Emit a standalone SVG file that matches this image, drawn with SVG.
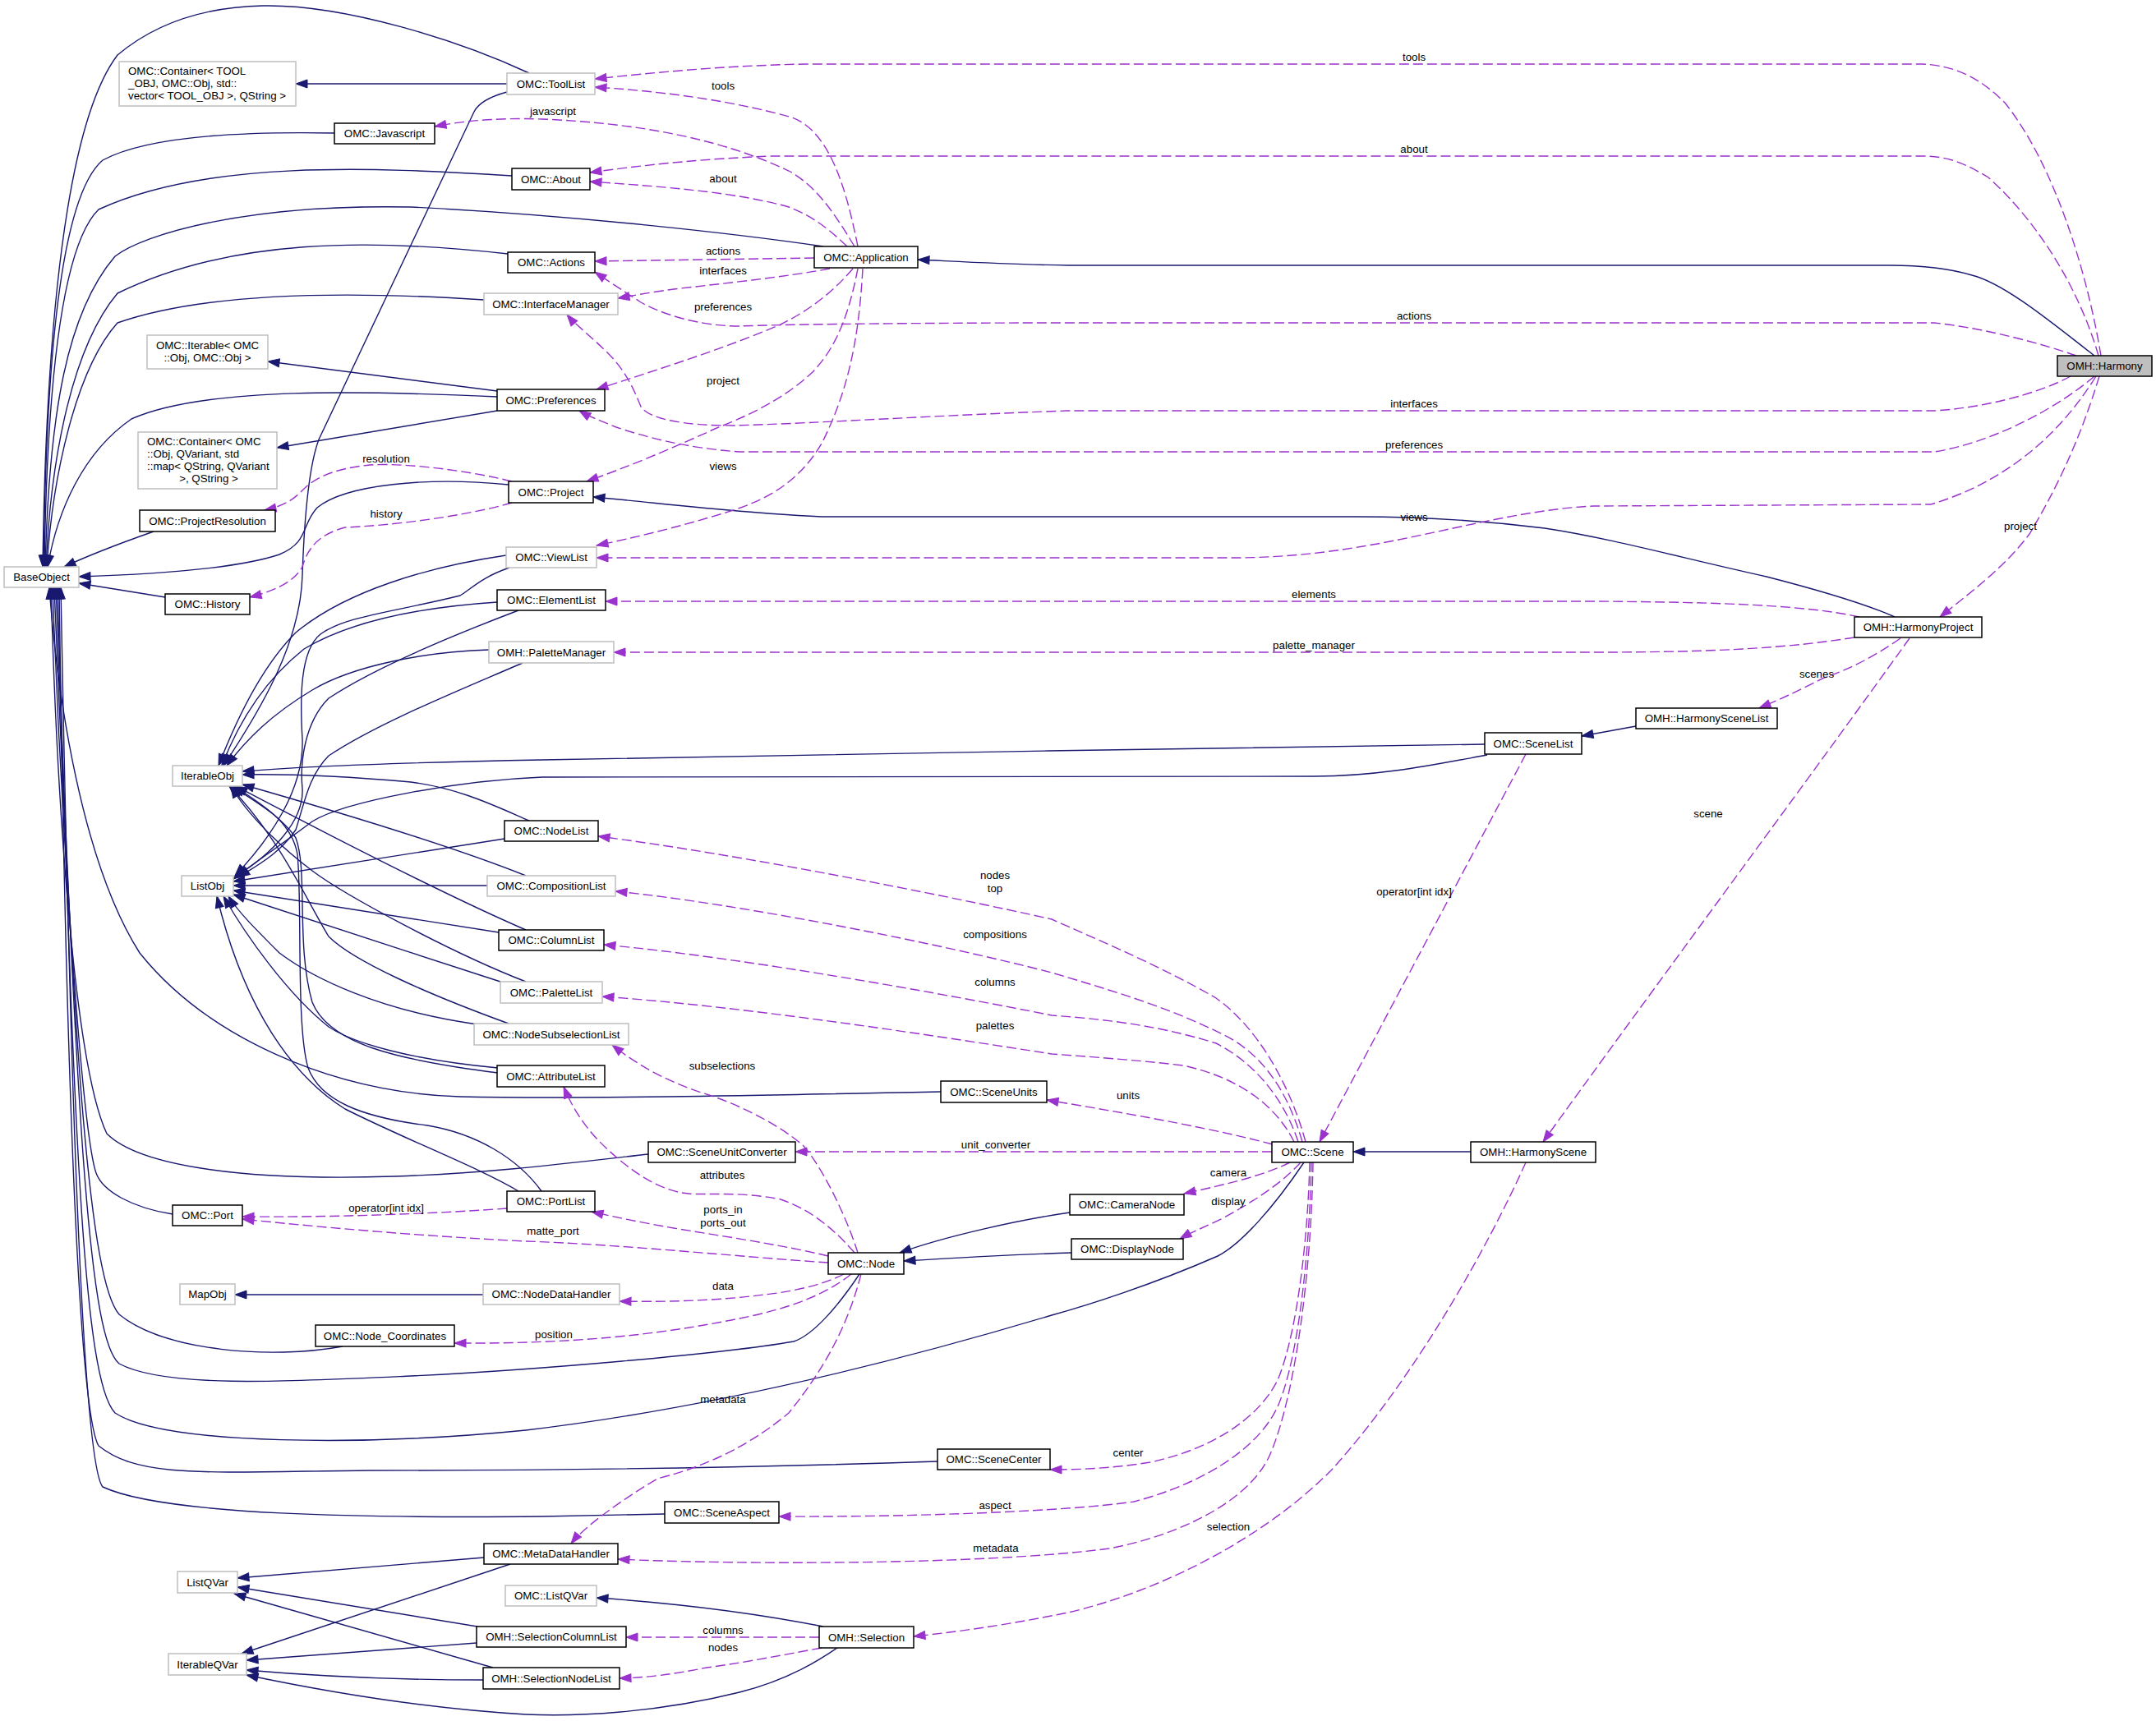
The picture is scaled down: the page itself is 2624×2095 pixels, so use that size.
<svg xmlns="http://www.w3.org/2000/svg" width="2624" height="2095" viewBox="0 0 2624 2095">
<style>
text{font-family:"Liberation Sans",Arial,Helvetica,sans-serif;font-size:13.3px;fill:#000}
.nd rect{fill:#fff;stroke:#000;stroke-width:1.5}
.nu rect{fill:#fff;stroke:#bfbfbf;stroke-width:1.5}
.nd text,.nu text{text-anchor:middle}
.inh path{fill:none;stroke:#191970;stroke-width:1.4;marker-end:url(#ai)}
.use path{fill:none;stroke:#9a32cd;stroke-width:1.4;stroke-dasharray:12,5;marker-end:url(#au)}
.lbl text{text-anchor:middle}
</style>
<defs>
<marker id="ai" markerUnits="userSpaceOnUse" markerWidth="16" markerHeight="12" refX="14" refY="5" orient="auto" overflow="visible"><path d="M0,0L14,5L0,10z" fill="#191970" stroke="#191970" stroke-width="1"/></marker>
<marker id="au" markerUnits="userSpaceOnUse" markerWidth="16" markerHeight="12" refX="14" refY="5" orient="auto" overflow="visible"><path d="M0,0L14,5L0,10z" fill="#9a32cd" stroke="#9a32cd" stroke-width="1"/></marker>
</defs>
<rect width="2624" height="2095" fill="#fff"/>
<g id="connectors">
<g class="inh">
<path d="M617,102 L360,102"/>
<path d="M644,89 C560,50 420,5 320,7 C230,9 175,40 143,67 C80,150 56,400 52,690"/>
<path d="M407,162 C300,160 180,165 125,195 C72,240 56,450 53,690"/>
<path d="M623,214 C450,203 250,195 120,255 C74,300 57,480 54,690"/>
<path d="M1002,300 C900,285 700,262 500,252 C300,248 175,285 140,312 C82,380 60,500 55,690"/>
<path d="M618,309 C450,290 280,290 143,357 C90,420 62,550 56,690"/>
<path d="M589,365 C450,356 260,352 143,393 C92,450 64,580 57,690"/>
<path d="M605,476 L326,440"/>
<path d="M605,483 C450,476 250,470 160,510 C102,550 70,620 58,690"/>
<path d="M605,500 L337,545"/>
<path d="M619,590 C520,580 420,590 386,618 C366,640 376,660 340,675 C280,695 160,700 96,702"/>
<path d="M187,647 C150,660 110,675 78,690"/>
<path d="M201,727 L96,710"/>
<path d="M617,112 C595,118 582,126 577,136 L388,535 C375,570 370,640 368,700 C366,780 320,860 272,932"/>
<path d="M616,676 C520,690 420,720 360,770 C320,810 290,870 266,932"/>
<path d="M620,691 C585,703 572,718 560,725 C480,745 420,750 390,772 C365,792 365,850 368,900 C370,960 330,1020 286,1066"/>
<path d="M605,733 C500,740 420,760 370,790 C320,830 290,880 270,932"/>
<path d="M631,743 C560,770 460,810 400,850 C370,880 365,930 368,960 C370,1000 330,1040 288,1066"/>
<path d="M595,791 C520,793 430,810 380,840 C330,870 300,900 276,932"/>
<path d="M636,807 C560,840 460,880 400,920 C375,945 370,980 360,1010 C340,1040 310,1055 290,1068"/>
<path d="M1807,906 C1500,910 900,920 660,925 C500,928 380,932 295,939"/>
<path d="M1810,919 C1750,930 1680,945 1600,945 L660,946 C560,950 420,975 380,1000 C340,1030 310,1050 284,1070"/>
<path d="M644,999 C600,980 560,960 500,952 C420,945 350,942 295,943"/>
<path d="M614,1021 L284,1073"/>
<path d="M640,1066 C550,1030 400,985 295,955"/>
<path d="M593,1078 L284,1078"/>
<path d="M640,1132 C520,1080 350,990 287,957"/>
<path d="M607,1135 L284,1084"/>
<path d="M640,1195 C550,1160 420,1090 380,1060 C340,1030 300,990 281,957"/>
<path d="M609,1195 C500,1160 350,1110 284,1089"/>
<path d="M619,1246 C520,1210 430,1170 400,1140 C370,1090 340,1020 279,957"/>
<path d="M581,1247 C460,1230 380,1190 340,1160 C310,1130 290,1110 278,1091"/>
<path d="M606,1306 C480,1290 400,1270 380,1220 C360,1150 375,1060 360,1020 C340,990 300,970 283,957"/>
<path d="M606,1300 C500,1290 430,1270 400,1250 C350,1210 300,1140 272,1091"/>
<path d="M659,1450 C630,1410 580,1380 520,1370 C440,1360 390,1340 375,1300 C360,1250 368,1100 362,1040 C355,1000 320,980 285,957"/>
<path d="M631,1450 C580,1420 500,1390 420,1350 C340,1300 290,1200 264,1091"/>
<path d="M1145,1329 C900,1334 700,1338 560,1335 C400,1330 250,1260 170,1160 C100,1050 70,850 60,715"/>
<path d="M789,1405 C700,1415 600,1428 480,1432 C300,1438 170,1420 130,1380 C92,1300 70,1000 62,715"/>
<path d="M210,1478 C160,1470 125,1450 117,1428 C100,1380 74,1000 64,715"/>
<path d="M417,1639 C330,1655 200,1645 145,1600 C110,1560 90,1300 66,715"/>
<path d="M1046,1551 C1020,1590 990,1625 966,1633 C880,1648 650,1668 500,1675 C350,1682 200,1690 145,1660 C110,1630 94,1400 68,715"/>
<path d="M1587,1415 C1550,1470 1510,1515 1482,1529 C1400,1565 1320,1590 1280,1601 C1150,1640 900,1710 640,1741 C450,1760 200,1760 140,1720 C102,1680 90,1400 70,715"/>
<path d="M1141,1779 C900,1787 700,1790 450,1790 C250,1792 170,1800 120,1760 C96,1720 80,1300 72,715"/>
<path d="M809,1843 L660,1846 C450,1848 200,1845 125,1810 C100,1780 85,1300 74,715"/>
<path d="M588,1576 L286,1576"/>
<path d="M2549,433 C2500,395 2440,345 2400,335 C2370,326 2340,323 2300,323 L1300,323 C1230,322 1180,319 1117,316"/>
<path d="M2306,751 C2270,735 2220,720 2150,702 C2050,680 1960,655 1880,643 C1800,633 1720,629 1650,629 L1000,629 C900,625 800,612 722,605"/>
<path d="M1991,884 L1925,896"/>
<path d="M1790,1402 L1647,1402"/>
<path d="M1302,1476 C1240,1485 1150,1505 1095,1525"/>
<path d="M1304,1525 C1240,1527 1150,1532 1100,1535"/>
<path d="M1002,1980 C900,1960 800,1950 726,1945"/>
<path d="M589,1896 L289,1921"/>
<path d="M621,1904 L294,2013"/>
<path d="M581,1980 L289,1932"/>
<path d="M580,2000 L300,2021"/>
<path d="M600,2030 L285,1940"/>
<path d="M588,2045 C480,2045 380,2040 300,2033"/>
<path d="M1033,1996 C1000,2020 960,2045 900,2060 C800,2085 700,2090 640,2087 C520,2080 400,2060 300,2039"/>
</g>
<g class="use">
<path d="M1044,300 C1030,230 1010,160 964,143 C900,125 820,112 724,106"/>
<path d="M1040,300 C1010,250 990,225 960,208 C880,170 780,150 660,145 C600,143 560,148 529,154"/>
<path d="M1031,300 C1000,270 980,260 960,252 C900,235 820,228 718,221"/>
<path d="M991,314 L724,318"/>
<path d="M1010,327 C950,338 880,345 820,352 C790,356 770,360 752,363"/>
<path d="M1038,327 C1010,360 980,380 950,395 C880,425 800,450 726,474"/>
<path d="M1044,327 C1030,400 1010,430 990,452 C950,490 900,510 870,522 C820,545 760,570 714,586"/>
<path d="M1050,327 C1045,420 1030,480 1000,540 C970,590 930,610 880,625 C820,643 770,655 726,664"/>
<path d="M2557,433 C2540,330 2500,200 2440,125 C2410,95 2380,80 2340,78 L980,78 C880,80 800,88 724,96"/>
<path d="M2554,433 C2530,350 2480,270 2420,216 C2390,198 2370,190 2340,190 L940,190 C860,193 790,200 718,210"/>
<path d="M2527,433 C2490,420 2420,400 2354,393 L1300,393 C1100,393 950,395 900,397 C850,397 805,382 780,368 C760,355 740,342 724,331"/>
<path d="M2520,458 C2480,480 2410,497 2354,500 L1300,500 C1150,505 1000,515 893,518 C830,518 790,510 780,495 C770,470 760,450 740,430 C720,410 700,395 690,383"/>
<path d="M2549,458 C2500,500 2420,540 2354,550 L900,550 C830,545 780,530 750,520 C730,512 715,506 705,500"/>
<path d="M2551,458 C2500,540 2430,590 2350,614 L1940,616 C1850,620 1750,650 1659,665 C1600,675 1550,679 1500,679 L726,679"/>
<path d="M2555,458 C2530,540 2500,600 2470,650 C2440,690 2400,720 2361,751"/>
<path d="M623,586 C580,575 500,563 450,566 C410,570 385,580 370,595 C360,605 350,615 322,621"/>
<path d="M623,612 C560,630 470,640 420,642 C390,650 375,665 368,690 C360,705 340,718 304,727"/>
<path d="M2263,751 C2200,737 2100,733 1940,732 L737,732"/>
<path d="M2257,776 C2180,788 2100,794 1940,794 L747,794"/>
<path d="M2313,777 C2280,800 2250,815 2220,825 C2190,840 2170,850 2141,862"/>
<path d="M2324,777 C2200,950 2000,1220 1878,1390"/>
<path d="M1857,918 L1606,1390"/>
<path d="M1589,1390 C1570,1320 1530,1250 1480,1215 C1420,1180 1350,1150 1280,1119 C1150,1090 900,1040 728,1018"/>
<path d="M1585,1390 C1565,1320 1530,1280 1490,1260 C1420,1225 1350,1205 1280,1184 C1150,1150 900,1100 749,1085"/>
<path d="M1580,1390 C1560,1330 1520,1290 1480,1270 C1400,1245 1330,1240 1280,1236 C1150,1210 900,1165 735,1150"/>
<path d="M1575,1390 C1550,1340 1500,1310 1440,1297 C1380,1290 1320,1286 1280,1283 C1100,1255 900,1225 733,1213"/>
<path d="M1549,1393 C1480,1375 1400,1360 1274,1339"/>
<path d="M1548,1402 L968,1402"/>
<path d="M1570,1415 C1540,1430 1500,1440 1441,1453"/>
<path d="M1583,1415 C1560,1440 1530,1460 1490,1482 C1470,1492 1450,1500 1436,1508"/>
<path d="M1594,1415 C1592,1500 1580,1620 1555,1680 C1530,1730 1470,1765 1400,1780 C1350,1788 1310,1789 1278,1789"/>
<path d="M1596,1415 C1594,1520 1581,1650 1556,1710 C1530,1770 1450,1810 1380,1828 C1300,1840 1100,1847 948,1846"/>
<path d="M1598,1415 C1596,1550 1576,1700 1546,1770 C1520,1830 1430,1870 1350,1885 C1200,1905 900,1905 752,1898"/>
<path d="M1857,1415 C1810,1520 1720,1680 1620,1790 C1530,1880 1400,1940 1300,1963 C1240,1975 1180,1985 1112,1992"/>
<path d="M1044,1525 C1030,1480 1000,1420 978,1395 C950,1370 900,1345 863,1333 C820,1320 780,1300 745,1272"/>
<path d="M1040,1525 C1010,1490 980,1470 950,1460 C900,1450 860,1455 838,1453 C800,1450 760,1420 730,1390 C710,1370 695,1345 686,1323"/>
<path d="M1008,1529 C950,1515 880,1505 820,1495 C780,1488 750,1482 720,1475"/>
<path d="M1008,1537 C900,1530 760,1515 640,1511 C520,1505 400,1495 295,1484"/>
<path d="M617,1471 C520,1478 400,1482 295,1481"/>
<path d="M1027,1551 C1000,1565 960,1573 930,1576 C870,1584 800,1585 754,1584"/>
<path d="M1036,1551 C1000,1580 950,1595 900,1605 C800,1625 700,1636 553,1635"/>
<path d="M1048,1551 C1030,1620 1000,1670 960,1720 C900,1770 840,1790 800,1800 C750,1830 710,1860 695,1879"/>
<path d="M997,1993 L762,1993"/>
<path d="M1000,2006 C950,2015 900,2025 860,2030 C820,2038 790,2042 754,2043"/>
</g>
<g class="lbl">
<text x="880" y="109">tools</text>
<text x="673" y="140">javascript</text>
<text x="880" y="222">about</text>
<text x="880" y="310">actions</text>
<text x="880" y="334">interfaces</text>
<text x="880" y="378">preferences</text>
<text x="880" y="468">project</text>
<text x="880" y="572">views</text>
<text x="1721" y="74">tools</text>
<text x="1721" y="186">about</text>
<text x="1721" y="389">actions</text>
<text x="1721" y="496">interfaces</text>
<text x="1721" y="546">preferences</text>
<text x="1721" y="634">views</text>
<text x="2459" y="645">project</text>
<text x="470" y="563">resolution</text>
<text x="470" y="630">history</text>
<text x="1599" y="728">elements</text>
<text x="1599" y="790">palette_manager</text>
<text x="2211" y="825">scenes</text>
<text x="2079" y="995">scene</text>
<text x="1721" y="1090">operator[int idx]</text>
<text x="1211" y="1070">nodes</text>
<text x="1211" y="1086">top</text>
<text x="1211" y="1142">compositions</text>
<text x="1211" y="1200">columns</text>
<text x="1211" y="1253">palettes</text>
<text x="1373" y="1338">units</text>
<text x="1212" y="1398">unit_converter</text>
<text x="1495" y="1432">camera</text>
<text x="1495" y="1467">display</text>
<text x="1373" y="1773">center</text>
<text x="1211" y="1837">aspect</text>
<text x="1212" y="1889">metadata</text>
<text x="1495" y="1863">selection</text>
<text x="879" y="1302">subselections</text>
<text x="879" y="1435">attributes</text>
<text x="880" y="1477">ports_in</text>
<text x="880" y="1493">ports_out</text>
<text x="673" y="1503">matte_port</text>
<text x="470" y="1475">operator[int idx]</text>
<text x="880" y="1570">data</text>
<text x="674" y="1629">position</text>
<text x="880" y="1708">metadata</text>
<text x="880" y="1989">columns</text>
<text x="880" y="2010">nodes</text>
</g>
</g>
<g id="n_Harmony" class="nd"><rect x="2504" y="433" width="115" height="25" style="fill:#bfbfbf"/><text x="2561.5" y="450">OMH::Harmony</text></g>
<g id="n_Application" class="nd"><rect x="991" y="300" width="126" height="26"/><text x="1054" y="317.5">OMC::Application</text></g>
<g id="n_ToolList" class="nu"><rect x="617" y="89" width="107" height="26"/><text x="670.5" y="106.5">OMC::ToolList</text></g>
<g id="n_ContainerTool" class="nu"><rect x="145" y="75" width="215" height="54"/><text x="156" y="91" style="text-anchor:start">OMC::Container&lt; TOOL</text><text x="156" y="106" style="text-anchor:start">_OBJ, OMC::Obj, std::</text><text x="156" y="121" style="text-anchor:start">vector&lt; TOOL_OBJ &gt;, QString &gt;</text></g>
<g id="n_Javascript" class="nd"><rect x="407" y="150" width="122" height="25"/><text x="468" y="167">OMC::Javascript</text></g>
<g id="n_About" class="nd"><rect x="623" y="205" width="95" height="26"/><text x="670.5" y="222.5">OMC::About</text></g>
<g id="n_Actions" class="nd"><rect x="618" y="307" width="106" height="25"/><text x="671" y="324">OMC::Actions</text></g>
<g id="n_InterfaceManager" class="nu"><rect x="589" y="357" width="163" height="26"/><text x="670.5" y="374.5">OMC::InterfaceManager</text></g>
<g id="n_IterableOMC" class="nu"><rect x="179" y="408" width="147" height="41"/><text x="252.5" y="425">OMC::Iterable&lt; OMC</text><text x="252.5" y="440">::Obj, OMC::Obj &gt;</text></g>
<g id="n_Preferences" class="nd"><rect x="605" y="474" width="131" height="26"/><text x="670.5" y="491.5">OMC::Preferences</text></g>
<g id="n_ContainerQV" class="nu"><rect x="168" y="526" width="169" height="69"/><text x="179" y="542" style="text-anchor:start">OMC::Container&lt; OMC</text><text x="179" y="557" style="text-anchor:start">::Obj, QVariant, std</text><text x="179" y="572" style="text-anchor:start">::map&lt; QString, QVariant</text><text x="254" y="587">&gt;, QString &gt;</text></g>
<g id="n_ProjectResolution" class="nd"><rect x="170" y="621" width="165" height="26"/><text x="252.5" y="638.5">OMC::ProjectResolution</text></g>
<g id="n_Project" class="nd"><rect x="619" y="586" width="103" height="26"/><text x="670.5" y="603.5">OMC::Project</text></g>
<g id="n_ViewList" class="nu"><rect x="616" y="666" width="110" height="25"/><text x="671" y="683">OMC::ViewList</text></g>
<g id="n_BaseObject" class="nu"><rect x="5" y="690" width="91" height="25"/><text x="50.5" y="707">BaseObject</text></g>
<g id="n_History" class="nd"><rect x="201" y="723" width="103" height="25"/><text x="252.5" y="740">OMC::History</text></g>
<g id="n_ElementList" class="nd"><rect x="605" y="718" width="132" height="25"/><text x="671" y="735">OMC::ElementList</text></g>
<g id="n_PaletteManager" class="nu"><rect x="595" y="781" width="152" height="26"/><text x="671" y="798.5">OMH::PaletteManager</text></g>
<g id="n_IterableObj" class="nu"><rect x="210" y="932" width="85" height="25"/><text x="252.5" y="949">IterableObj</text></g>
<g id="n_ListObj" class="nu"><rect x="221" y="1066" width="63" height="25"/><text x="252.5" y="1083">ListObj</text></g>
<g id="n_NodeList" class="nd"><rect x="614" y="999" width="114" height="25"/><text x="671" y="1016">OMC::NodeList</text></g>
<g id="n_CompositionList" class="nu"><rect x="593" y="1066" width="156" height="25"/><text x="671" y="1083">OMC::CompositionList</text></g>
<g id="n_ColumnList" class="nd"><rect x="607" y="1132" width="128" height="25"/><text x="671" y="1149">OMC::ColumnList</text></g>
<g id="n_PaletteList" class="nu"><rect x="609" y="1195" width="124" height="26"/><text x="671" y="1212.5">OMC::PaletteList</text></g>
<g id="n_NodeSubselectionList" class="nu"><rect x="577" y="1246" width="188" height="26"/><text x="671" y="1263.5">OMC::NodeSubselectionList</text></g>
<g id="n_AttributeList" class="nd"><rect x="605" y="1297" width="131" height="26"/><text x="670.5" y="1314.5">OMC::AttributeList</text></g>
<g id="n_SceneUnits" class="nd"><rect x="1145" y="1316" width="129" height="26"/><text x="1209.5" y="1333.5">OMC::SceneUnits</text></g>
<g id="n_SceneUnitConverter" class="nd"><rect x="789" y="1390" width="179" height="25"/><text x="878.5" y="1407">OMC::SceneUnitConverter</text></g>
<g id="n_PortList" class="nd"><rect x="617" y="1450" width="107" height="25"/><text x="670.5" y="1467">OMC::PortList</text></g>
<g id="n_Port" class="nd"><rect x="210" y="1467" width="85" height="25"/><text x="252.5" y="1484">OMC::Port</text></g>
<g id="n_MapObj" class="nu"><rect x="219" y="1563" width="67" height="25"/><text x="252.5" y="1580">MapObj</text></g>
<g id="n_NodeDataHandler" class="nu"><rect x="588" y="1563" width="166" height="25"/><text x="671" y="1580">OMC::NodeDataHandler</text></g>
<g id="n_NodeCoordinates" class="nd"><rect x="384" y="1613" width="169" height="26"/><text x="468.5" y="1630.5">OMC::Node_Coordinates</text></g>
<g id="n_Node" class="nd"><rect x="1008" y="1525" width="92" height="26"/><text x="1054" y="1542.5">OMC::Node</text></g>
<g id="n_CameraNode" class="nd"><rect x="1302" y="1454" width="139" height="25"/><text x="1371.5" y="1471">OMC::CameraNode</text></g>
<g id="n_DisplayNode" class="nd"><rect x="1304" y="1508" width="136" height="25"/><text x="1372" y="1525">OMC::DisplayNode</text></g>
<g id="n_Scene" class="nd"><rect x="1548" y="1390" width="99" height="25"/><text x="1597.5" y="1407">OMC::Scene</text></g>
<g id="n_HarmonyScene" class="nd"><rect x="1790" y="1390" width="152" height="25"/><text x="1866" y="1407">OMH::HarmonyScene</text></g>
<g id="n_SceneList" class="nd"><rect x="1807" y="892" width="118" height="26"/><text x="1866" y="909.5">OMC::SceneList</text></g>
<g id="n_HarmonySceneList" class="nd"><rect x="1991" y="862" width="172" height="25"/><text x="2077" y="879">OMH::HarmonySceneList</text></g>
<g id="n_HarmonyProject" class="nd"><rect x="2257" y="751" width="155" height="25"/><text x="2334.5" y="768">OMH::HarmonyProject</text></g>
<g id="n_SceneCenter" class="nd"><rect x="1141" y="1764" width="137" height="25"/><text x="1209.5" y="1781">OMC::SceneCenter</text></g>
<g id="n_SceneAspect" class="nd"><rect x="809" y="1828" width="139" height="26"/><text x="878.5" y="1845.5">OMC::SceneAspect</text></g>
<g id="n_MetaDataHandler" class="nd"><rect x="589" y="1879" width="163" height="25"/><text x="670.5" y="1896">OMC::MetaDataHandler</text></g>
<g id="n_ListQVar" class="nu"><rect x="216" y="1913" width="73" height="26"/><text x="252.5" y="1930.5">ListQVar</text></g>
<g id="n_OMCListQVar" class="nu"><rect x="615" y="1930" width="111" height="25"/><text x="670.5" y="1947">OMC::ListQVar</text></g>
<g id="n_SelectionColumnList" class="nd"><rect x="580" y="1980" width="182" height="25"/><text x="671" y="1997">OMH::SelectionColumnList</text></g>
<g id="n_IterableQVar" class="nu"><rect x="205" y="2013" width="95" height="26"/><text x="252.5" y="2030.5">IterableQVar</text></g>
<g id="n_SelectionNodeList" class="nd"><rect x="588" y="2030" width="166" height="26"/><text x="671" y="2047.5">OMH::SelectionNodeList</text></g>
<g id="n_Selection" class="nd"><rect x="997" y="1980" width="115" height="26"/><text x="1054.5" y="1997.5">OMH::Selection</text></g>
</svg>
